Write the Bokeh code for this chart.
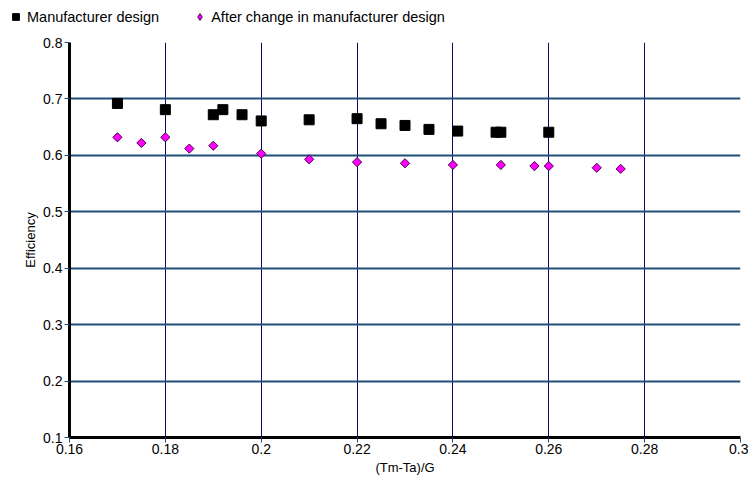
import math
from bokeh.plotting import figure
from bokeh.layouts import column
from bokeh.models import Legend, LegendItem, FixedTicker, Range1d
from bokeh.embed import file_html
from bokeh.resources import INLINE

# ---- data ----
manuf_x = [0.17, 0.18, 0.19, 0.192, 0.196, 0.2, 0.21, 0.22, 0.225, 0.23, 0.235, 0.241, 0.249, 0.25, 0.26]
manuf_y = [0.692, 0.681, 0.672, 0.681, 0.672, 0.661, 0.663, 0.665, 0.656, 0.653, 0.646, 0.643, 0.641, 0.641, 0.641]
after_x = [0.17, 0.175, 0.18, 0.185, 0.19, 0.2, 0.21, 0.22, 0.23, 0.24, 0.25, 0.257, 0.26, 0.27, 0.275]
after_y = [0.632, 0.622, 0.632, 0.612, 0.617, 0.603, 0.593, 0.588, 0.586, 0.583, 0.583, 0.581, 0.581, 0.578, 0.576]

x_ticks = [0.16, 0.18, 0.2, 0.22, 0.24, 0.26, 0.28, 0.3]
x_tick_labels = ["0.16", "0.18", "0.2", "0.22", "0.24", "0.26", "0.28", "0.3"]
y_ticks = [0.1, 0.2, 0.3, 0.4, 0.5, 0.6, 0.7, 0.8]
y_tick_labels = ["0.1", "0.2", "0.3", "0.4", "0.5", "0.6", "0.7", "0.8"]
series_names = ["Manufacturer design", "After change in manufacturer design"]
x_title = "(Tm-Ta)/G"
y_title = "Efficiency"

FONT = "Liberation Sans"

SQ = dict(marker="square", size=10, fill_color="black", line_color="black")
DM = dict(marker="square", angle=math.pi / 4, size=6.5, fill_color="#ff00ff",
          line_color="#4a004a", line_width=1)
DM_LEG = dict(marker="diamond", fill_color="#ff00ff", line_color="#4a004a", line_width=1)

# ---- main chart ----
p = figure(width=748, height=451, output_backend="svg", toolbar_location=None,
           x_range=Range1d(0.16, 0.3), y_range=Range1d(0.1, 0.8),
           min_border_left=69, min_border_right=8, min_border_top=10, min_border_bottom=46)
p.outline_line_color = None
p.background_fill_color = "white"

p.xgrid.ticker = FixedTicker(ticks=x_ticks[1:])
p.xgrid.grid_line_color = "#0a0a5a"
p.xgrid.grid_line_width = 1
p.ygrid.ticker = FixedTicker(ticks=y_ticks[1:-1])
p.ygrid.grid_line_color = "#1f4e79"
p.ygrid.grid_line_width = 2

for ax, ticks, labels in ((p.xaxis, x_ticks, x_tick_labels), (p.yaxis, y_ticks, y_tick_labels)):
    ax.ticker = FixedTicker(ticks=ticks)
    ax.major_label_overrides = {t: l for t, l in zip(ticks, labels)}
    ax.axis_line_color = "black"
    ax.axis_line_width = 3
    ax.major_tick_line_color = "#1f4e79"
    ax.major_tick_line_width = 1
    ax.major_tick_out = 5
    ax.major_tick_in = 0
    ax.minor_tick_line_color = None
    ax.major_label_text_font = FONT
    ax.major_label_text_font_size = "14px"
    ax.major_label_text_color = "black"
    ax.axis_label_text_font = FONT
    ax.axis_label_text_font_size = "13px"
    ax.axis_label_text_font_style = "normal"
    ax.axis_label_text_color = "black"

p.xaxis.axis_label = x_title
p.yaxis.axis_label = y_title
p.xaxis.major_label_standoff = 1
p.xaxis.axis_label_standoff = 3
p.yaxis.major_label_standoff = 2
p.yaxis.axis_label_standoff = 2

p.scatter(manuf_x, manuf_y, **SQ)
p.scatter(after_x, after_y, **DM)

# ---- legend strip above the chart ----
top = figure(width=748, height=32, output_backend="svg", toolbar_location=None,
             x_axis_location=None, y_axis_location=None,
             x_range=Range1d(0, 1), y_range=Range1d(0, 1),
             min_border_left=0, min_border_right=0, min_border_top=0, min_border_bottom=0)
try:
    top.frame_align = False
except Exception:
    pass
top.grid.visible = False
top.outline_line_color = None
l1 = top.scatter([math.nan], [math.nan], **SQ)
l2 = top.scatter([math.nan], [math.nan], **DM_LEG)

legend = Legend(items=[LegendItem(label=series_names[0], renderers=[l1]),
                       LegendItem(label=series_names[1], renderers=[l2])],
                orientation="horizontal", location=(7, 7))
legend.border_line_color = None
legend.background_fill_alpha = 0
legend.padding = 0
legend.margin = 0
legend.glyph_width = 17
legend.glyph_height = 17
legend.label_standoff = 3
legend.spacing = 32
legend.label_text_font = FONT
legend.label_text_font_size = "14.5px"
legend.label_text_color = "black"
top.add_layout(legend, "center")

layout = column(top, p, spacing=0)
open("out.html", "w").write(file_html(layout, INLINE))
